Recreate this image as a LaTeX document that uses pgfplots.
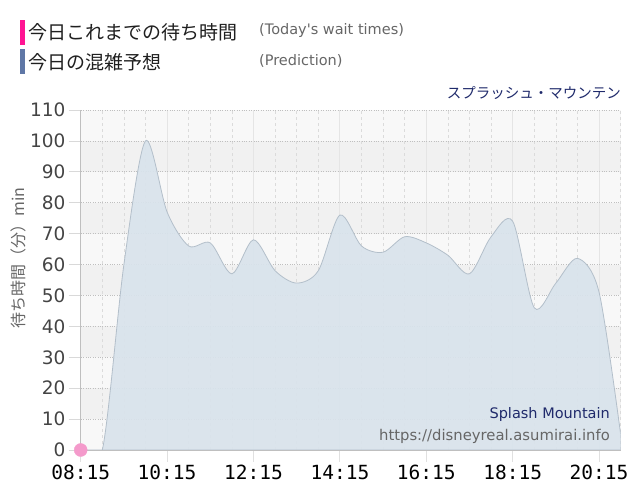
\documentclass[border=0pt]{standalone}
\usepackage{pgfplots}
\pgfplotsset{compat=1.18}
\usepackage{pgfplotstable}
\usepackage{fontspec}
\setmainfont{DejaVu Sans}
\newfontfamily\rawsans{DejaVu Sans}[Ligatures=TeXOff]
\newfontfamily\cjk{Noto Sans CJK JP}
\newfontfamily\mono{DejaVu Sans Mono}
\definecolor{barpink}{HTML}{FF1493}
\definecolor{barblue}{HTML}{5F77A6}
\definecolor{areafill}{HTML}{D9E3EC}
\definecolor{areaedge}{HTML}{B3BFCA}
\definecolor{dotpink}{HTML}{F49ACB}
\definecolor{bandlight}{HTML}{F8F8F8}
\definecolor{banddark}{HTML}{F1F1F1}
\definecolor{navy}{HTML}{1F2A6B}
\definecolor{txtgray}{HTML}{666666}
\definecolor{tickgray}{HTML}{444444}

\pgfplotstableread{
t v
495 0
525 0
555 60
585 100
615 77
645 66
675 67
705 57
735 68
765 58
795 54
825 58
855 76
885 66
915 64
945 69
975 67
1005 63
1035 57
1065 69
1095 74
1125 46
1155 54
1185 62
1215 51
1245 5
}\prediction

\pgfplotstableread{
t v
495 0
}\today

\begin{document}
\begin{tikzpicture}
\useasboundingbox (0pt,0pt) rectangle (640pt,500pt);
% legend
\fill[barpink] (20pt,455pt) rectangle (25pt,480pt);
\node[anchor=west,inner sep=0pt,text=black!88] at (28pt,468pt) {\cjk\fontsize{19}{22}\selectfont 今日これまでの待ち時間};
\node[anchor=west,inner sep=0pt,text=txtgray] at (259pt,469pt) {\rawsans\fontsize{14.5}{16}\selectfont (Today's wait times)};
\fill[barblue] (20pt,426pt) rectangle (25pt,451pt);
\node[anchor=west,inner sep=0pt,text=black!88] at (28pt,438pt) {\cjk\fontsize{19}{22}\selectfont 今日の混雑予想};
\node[anchor=west,inner sep=0pt,text=txtgray] at (259pt,439pt) {\rawsans\fontsize{14.5}{16}\selectfont (Prediction)};
\node[anchor=east,inner sep=0pt,text=navy] at (621pt,407pt) {\cjk\fontsize{14.5}{17}\selectfont スプラッシュ・マウンテン};
% y label
\node[rotate=90,inner sep=0pt,text=txtgray] at (18.5pt,242pt) {\cjk\fontsize{16}{18}\selectfont 待ち時間（分）min};
% background bands
\fill[bandlight] (80.7pt,50pt) rectangle (620.7pt,390pt);
\fill[banddark] (80.7pt,80.909pt) rectangle (620.7pt,111.818pt);
\fill[banddark] (80.7pt,142.727pt) rectangle (620.7pt,173.636pt);
\fill[banddark] (80.7pt,204.545pt) rectangle (620.7pt,235.455pt);
\fill[banddark] (80.7pt,266.364pt) rectangle (620.7pt,297.273pt);
\fill[banddark] (80.7pt,328.182pt) rectangle (620.7pt,359.091pt);
\begin{axis}[
  at={(80.7pt,50pt)}, anchor=south west,
  scale only axis, width=540pt, height=340pt,
  xmin=495, xmax=1245, ymin=0, ymax=110,
  clip mode=individual,
  axis x line*=bottom, axis y line*=left,
  axis line style={draw=black!25, line width=0.8pt},
  xtick={495,615,735,855,975,1095,1215},
  xticklabels={08:15,10:15,12:15,14:15,16:15,18:15,20:15},
  minor xtick={525,555,585,645,675,705,765,795,825,885,915,945,1005,1035,1065,1125,1155,1185,1245},
  ytick={0,10,...,110},
  tick align=outside,
  major tick length=12pt,
  x tick style={draw=black!12, line width=0.8pt},
  y tick style={draw=black!15, line width=0.8pt},
  minor tick length=0pt,
  xmajorgrids, xminorgrids, ymajorgrids,
  x grid style={draw=black!10, line width=0.8pt},
  minor x grid style={draw=black!14, dashed, dash pattern=on 3pt off 3pt, line width=0.7pt},
  y grid style={draw=black!25, dotted, line width=0.8pt},
  /pgf/number format/assume math mode=true,
  yticklabel style={font=\fontsize{18.5}{20}\selectfont, text=tickgray, inner sep=0pt, xshift=-3pt},
  xticklabel style={font=\mono\fontsize{19.5}{22}\selectfont, text=black, inner sep=0pt, yshift=-3pt},
]
\addplot[fill=areafill, fill opacity=0.92, draw=areaedge, line width=0.8pt, smooth, tension=0.5] table[x=t,y=v] {\prediction} \closedcycle;
\addplot[only marks, mark=*, mark size=6.5pt, color=dotpink] table[x=t,y=v] {\today};
\end{axis}
\node[anchor=east,inner sep=0pt,text=navy] at (610pt,85pt) {\fontsize{14.5}{17}\selectfont Splash Mountain};
\node[anchor=east,inner sep=0pt,text=txtgray] at (610pt,64pt) {\rawsans\fontsize{14.8}{17}\selectfont https://disneyreal.asumirai.info};
\end{tikzpicture}
\end{document}
